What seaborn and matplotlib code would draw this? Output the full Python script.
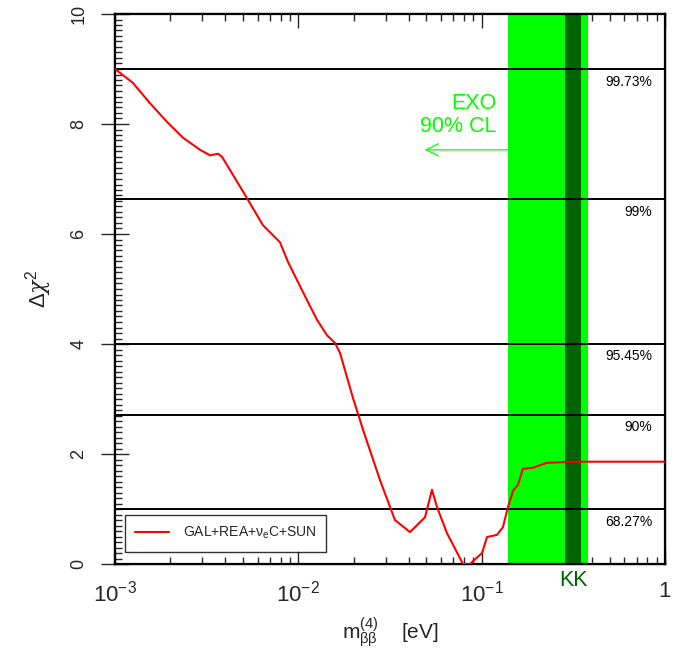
import numpy as np
import pandas as pd
import matplotlib
matplotlib.use("Agg")
import matplotlib.pyplot as plt
import seaborn as sns
from matplotlib.ticker import MultipleLocator, FixedLocator, NullFormatter, LogLocator

# ---- data ----
m_bb = [0.00100, 0.00125, 0.00155, 0.00192, 0.00235, 0.00291, 0.00330, 0.00365,
        0.00384, 0.00441, 0.00525, 0.00641, 0.00794, 0.00879, 0.00984, 0.01114,
        0.01265, 0.01432, 0.01585, 0.01687, 0.01841, 0.01986, 0.02254, 0.02786,
        0.03365, 0.04064, 0.04909, 0.05358, 0.05702, 0.06471, 0.0791, 0.0863,
        0.1005, 0.1069, 0.1213, 0.1306, 0.1393, 0.1483, 0.1578, 0.1679, 0.1905,
        0.2270, 0.2780, 0.3034, 0.644, 1.0]
dchi2 = [9.00, 8.75, 8.38, 8.04, 7.75, 7.53, 7.43, 7.46,
         7.40, 7.07, 6.65, 6.16, 5.85, 5.49, 5.16, 4.80,
         4.44, 4.16, 4.02, 3.84, 3.40, 3.02, 2.44, 1.53,
         0.80, 0.58, 0.85, 1.35, 1.04, 0.56, 0.00, 0.00,
         0.20, 0.49, 0.53, 0.67, 1.04, 1.33, 1.44, 1.73, 1.75,
         1.84, 1.85, 1.86, 1.86, 1.86]
series_label = r"GAL+REA+$\nu_e$C+SUN"

cl_levels = [1.0, 2.71, 4.0, 6.63, 9.0]
cl_labels = ["68.27%", "90%", "95.45%", "99%", "99.73%"]

exo_band = (0.139, 0.38)
kk_band = (0.285, 0.348)
exo_arrow = (0.139, 0.049)
exo_arrow_y = 7.53

x_ticks = [1e-3, 1e-2, 1e-1, 1]
x_ticklabels = [r"$10^{-3}$", r"$10^{-2}$", r"$10^{-1}$", "1"]
y_ticks = [0, 2, 4, 6, 8, 10]

df = pd.DataFrame({"m": m_bb, "chi2": dchi2, "series": series_label})

# ---- style ----
sns.set_style("white")
plt.rcParams["font.family"] = ["Liberation Sans", "DejaVu Sans"]
plt.rcParams["mathtext.fontset"] = "custom"
plt.rcParams["mathtext.rm"] = "Liberation Sans"
plt.rcParams["mathtext.it"] = "Liberation Sans"
plt.rcParams["mathtext.bf"] = "DejaVu Serif:italic"

fig = plt.figure(figsize=(6.97, 6.54), dpi=100)
ax = fig.add_axes([115/697, 90/654, 550/697, 550/654])

light_green = "#00ff00"
dark_green = "#006400"

ax.axvspan(*exo_band, color=light_green, lw=0, zorder=1)
ax.axvspan(*kk_band, color=dark_green, lw=0, zorder=1.1)

for lev in cl_levels:
    ax.axhline(lev, color="black", lw=1.4, zorder=2)

sns.lineplot(data=df, x="m", y="chi2", hue="series", palette=["red"],
             lw=1.5, ax=ax, zorder=3, estimator=None, sort=False)

ax.set_xscale("log")
ax.set_xlim(1e-3, 1)
ax.set_ylim(0, 10)

ax.set_xticks(x_ticks)
ax.set_xticklabels(x_ticklabels, fontsize=16)
ax.xaxis.set_minor_locator(LogLocator(base=10, subs=np.arange(2, 10), numticks=20))
ax.xaxis.set_minor_formatter(NullFormatter())
ax.set_yticks(y_ticks)
ax.set_yticklabels([str(t) for t in y_ticks], fontsize=13, rotation=90, va="center")
ax.yaxis.set_minor_locator(MultipleLocator(0.1))

ax.tick_params(axis="x", which="major", direction="in", length=10, width=1,
               top=True, bottom=True, pad=12)
ax.tick_params(axis="x", which="minor", direction="in", length=5, width=1,
               top=True, bottom=True)
ax.tick_params(axis="y", which="major", direction="inout", length=20, width=1,
               left=True, right=True, pad=10)
ax.tick_params(axis="y", which="minor", direction="in", length=5, width=1,
               left=True, right=True)

# medium ticks at odd integers
ax2 = ax.twinx()
ax2.set_ylim(0, 10)
ax2.yaxis.set_major_locator(FixedLocator([1, 3, 5, 7, 9]))
ax2.yaxis.set_major_formatter(NullFormatter())
ax2.tick_params(axis="y", which="major", direction="in", length=10, width=1,
                left=True, right=True, labelleft=False, labelright=False)
ax2.set_zorder(ax.get_zorder() - 1)

for a in (ax, ax2):
    for s in a.spines.values():
        s.set_linewidth(1.6)
        s.set_color("black")

for lev, lab in zip(cl_levels, cl_labels):
    ax.annotate(lab, xy=(0.977, lev), xycoords=("axes fraction", "data"),
                xytext=(0, -9), textcoords="offset points",
                ha="right", va="center", fontsize=10, color="black", zorder=4)

ax.text(0.693, 8.38, "EXO", transform=ax.get_yaxis_transform(),
        ha="right", va="center", fontsize=15.5, color=light_green)
ax.text(0.693, 7.95, "90% CL", transform=ax.get_yaxis_transform(),
        ha="right", va="center", fontsize=15.5, color=light_green)
ax.annotate("", xy=(exo_arrow[1], exo_arrow_y), xytext=(exo_arrow[0], exo_arrow_y),
            arrowprops=dict(arrowstyle="->", color=light_green, lw=0.9,
                            mutation_scale=22, shrinkA=0, shrinkB=0))

ax.text(np.sqrt(kk_band[0] * kk_band[1]), -0.1, "KK", transform=ax.transData,
        ha="center", va="top", fontsize=15.5, color=dark_green, clip_on=False)

ax.set_xlabel(r"m$^{(4)}_{\beta\beta}$    [eV]", fontsize=15, labelpad=6)
ax.set_ylabel(r"$\Delta\mathbf{\chi}^2$", fontsize=16, labelpad=12)

leg = ax.legend(loc="lower left", bbox_to_anchor=(0.018, 0.022), fontsize=10,
                frameon=True, fancybox=False, edgecolor="black",
                handlelength=2.4, borderpad=0.75, borderaxespad=0,
                handletextpad=1.0)
leg.get_frame().set_linewidth(1.0)
leg.set_title(None)
leg.set_zorder(5)

fig.savefig("out.png", dpi=100)
